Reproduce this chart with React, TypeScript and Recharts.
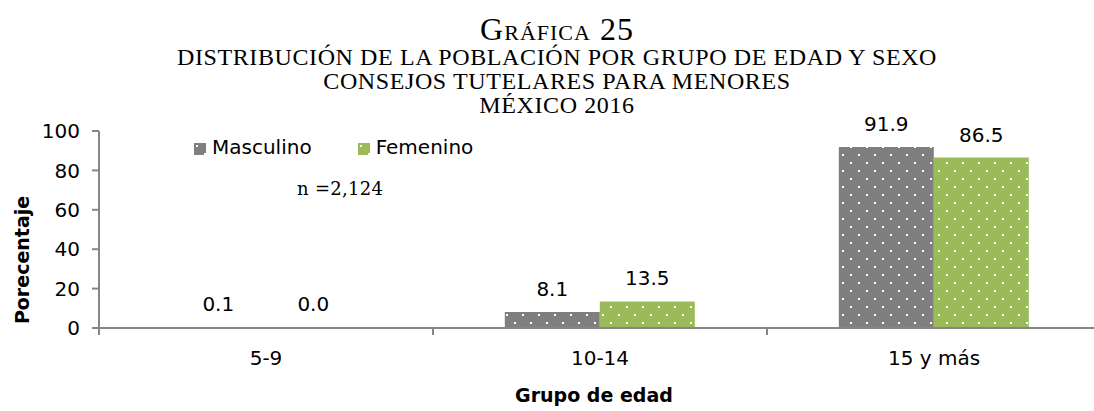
import React from "react";
import { BarChart, Bar, XAxis, YAxis, LabelList } from "recharts";

const groups = ["5-9", "10-14", "15 y más"];
const masculino = [0.1, 8.1, 91.9];
const femenino = [0.0, 13.5, 86.5];
const yTicks = [0, 20, 40, 60, 80, 100];

const data = groups.map((g, i) => ({ grupo: g, masculino: masculino[i], femenino: femenino[i] }));

const SANS = "'DejaVu Sans', sans-serif";
const SERIF = "'Liberation Serif', serif";
const AXIS = "#868686";
const GRAY = "#7f7f7f";
const GREEN = "#9bbb59";
const BAND = 334;

function CatTick(props: any) {
    const { x, y, payload } = props;
    return (
        <g>
            <line x1={x - BAND / 2} x2={x - BAND / 2} y1={y} y2={y + 7} stroke={AXIS} strokeWidth={2} />
            <text x={x} y={y + 37} textAnchor="middle" fontSize={20} fontFamily={SANS} fill="#000">
                {payload.value}
            </text>
        </g>
    );
}

// value label drawn above each bar, also for the near-zero ones
function ValueLabel(props: any) {
    const { x, y, width, height, value } = props;
    if (value == null) return null;
    const top = Number(y) + Math.min(0, Number(height) || 0);
    return (
        <text x={Number(x) + Number(width) / 2} y={top - 16} textAnchor="middle" fontSize={20} fontFamily={SANS} fill="#000">
            {Number(value).toFixed(1)}
        </text>
    );
}

function Swatch({ id }: { id: string }) {
    return (
        <svg width={12} height={12} style={{ display: "inline-block", marginRight: 6, verticalAlign: "-1px" }}>
            <rect width={12} height={12} fill={`url(#${id})`} />
        </svg>
    );
}

export default function App() {
    const titleLine = (text: string, top: number, size: number, lh: number, extra: React.CSSProperties = {}) => (
        <div
            style={{
                position: "absolute",
                left: 557,
                top,
                transform: "translateX(-50%)",
                whiteSpace: "nowrap",
                fontFamily: SERIF,
                fontSize: size,
                lineHeight: `${lh}px`,
                color: "#000",
                ...extra,
            }}
        >
            {text}
        </div>
    );

    return (
        <div style={{ position: "fixed", left: 0, top: 0, width: 1094, height: 411, overflow: "hidden", background: "#fff" }}>
            <BarChart
                width={1102}
                height={411}
                data={data}
                margin={{ top: 131, right: 1, left: 0, bottom: 53 }}
                barCategoryGap="21.5%"
                barGap={0}
            >
                <defs>
                    <pattern id="dotsGray" width={16} height={16} patternUnits="userSpaceOnUse">
                        <rect width={16} height={16} fill={GRAY} />
                        <rect x={2} y={2} width={2} height={2} fill="#fff" />
                        <rect x={10} y={10} width={2} height={2} fill="#fff" />
                    </pattern>
                    <pattern id="dotsGreen" width={16} height={16} patternUnits="userSpaceOnUse">
                        <rect width={16} height={16} fill={GREEN} />
                        <rect x={2} y={2} width={2} height={2} fill="#fff" />
                        <rect x={10} y={10} width={2} height={2} fill="#fff" />
                    </pattern>
                </defs>
                <Bar dataKey="masculino" fill="url(#dotsGray)" minPointSize={1} isAnimationActive={false}>
                    <LabelList dataKey="masculino" content={<ValueLabel />} />
                </Bar>
                <Bar dataKey="femenino" fill="url(#dotsGreen)" minPointSize={1} isAnimationActive={false}>
                    <LabelList dataKey="femenino" content={<ValueLabel />} />
                </Bar>
                <XAxis
                    dataKey="grupo"
                    height={30}
                    axisLine={{ stroke: AXIS, strokeWidth: 2 }}
                    tickLine={false}
                    tickSize={0}
                    tickMargin={0}
                    tick={<CatTick />}
                    interval={0}
                />
                <YAxis
                    width={99}
                    domain={[0, 100]}
                    ticks={yTicks}
                    axisLine={{ stroke: AXIS, strokeWidth: 2 }}
                    tickLine={{ stroke: AXIS, strokeWidth: 2 }}
                    tickSize={7}
                    tickMargin={12}
                    tick={{ fontSize: 20, fontFamily: SANS, fill: "#000" }}
                />
            </BarChart>

            {titleLine("Gráfica 25", 17, 32, 24, { fontVariant: "small-caps", letterSpacing: 1 })}
            {titleLine("DISTRIBUCIÓN DE LA POBLACIÓN POR GRUPO DE EDAD Y SEXO", 48, 24, 18, { letterSpacing: 0.6 })}
            {titleLine("CONSEJOS TUTELARES PARA MENORES", 72, 24, 18, { letterSpacing: 0.6 })}
            {titleLine("MÉXICO 2016", 96, 24, 18, { letterSpacing: 0.6 })}

            <div style={{ position: "absolute", left: 194, top: 135, fontFamily: SANS, fontSize: 20, lineHeight: "24px", whiteSpace: "nowrap" }}>
                <span style={{ marginRight: 46 }}>
                    <Swatch id="dotsGray" />Masculino
                </span>
                <span>
                    <Swatch id="dotsGreen" />Femenino
                </span>
            </div>

            <div style={{ position: "absolute", left: 297, top: 180, fontFamily: "'DejaVu Serif', serif", fontSize: 18, lineHeight: 1, letterSpacing: 0.3 }}>
                n =2,124
            </div>

            <div
                style={{
                    position: "absolute",
                    left: 22,
                    top: 260,
                    transform: "translate(-50%, -50%) rotate(-90deg)",
                    fontFamily: SANS,
                    fontWeight: "bold",
                    fontSize: 19,
                    whiteSpace: "nowrap",
                }}
            >
                Porecentaje
            </div>

            <div
                style={{
                    position: "absolute",
                    left: 594,
                    top: 386,
                    transform: "translateX(-50%)",
                    fontFamily: SANS,
                    fontWeight: "bold",
                    fontSize: 19,
                    lineHeight: 1,
                    whiteSpace: "nowrap",
                }}
            >
                Grupo de edad
            </div>
        </div>
    );
}
